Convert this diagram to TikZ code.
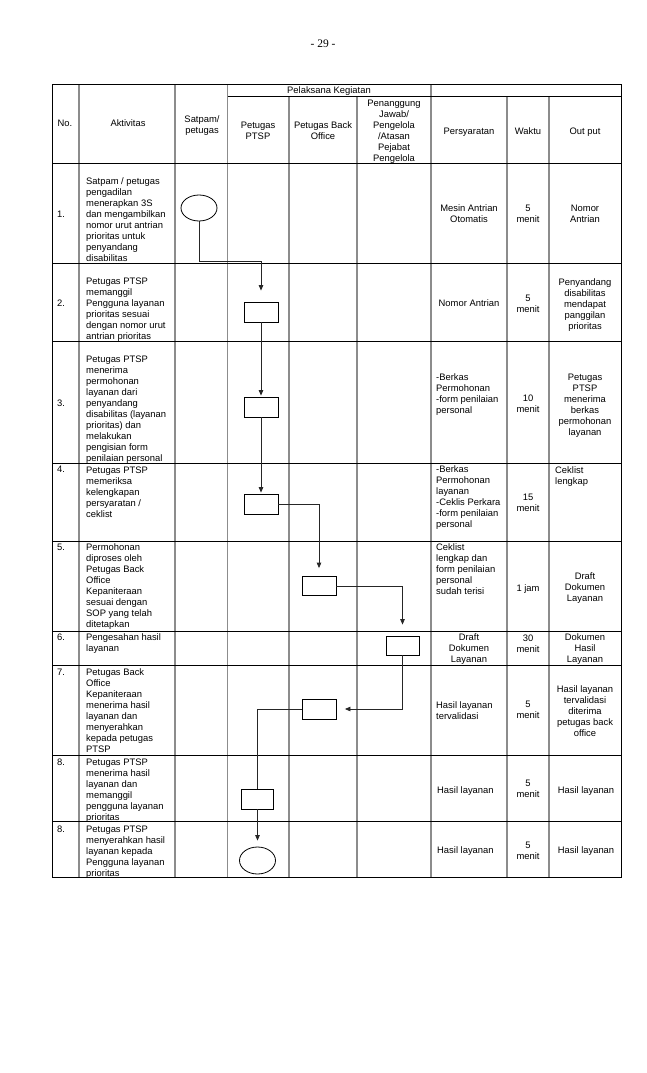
\documentclass[tikz,border=0pt]{standalone}
\usepackage{fontspec}
\setmainfont{Liberation Sans}
\newfontfamily\pgserif{Liberation Serif}
\usetikzlibrary{arrows.meta,shapes.geometric}
\newcommand\lcell[1]{\begin{tabular}[t]{@{}l@{}}#1\end{tabular}}
\newcommand\ccell[1]{\begin{tabular}[t]{@{}c@{}}#1\end{tabular}}
\begin{document}
\begin{tikzpicture}[x=1pt,y=-1pt,
  txt/.style={inner sep=0pt,font=\fontsize{9.4}{11}\selectfont},
  lt/.style={txt,anchor=base west},
  ct/.style={txt,anchor=base},
  hline/.style={line width=0.9pt,black},
  vline/.style={line width=1.2pt,black!45},
  boxstep/.style={draw,line width=0.8pt,minimum width=34pt,minimum height=20pt,inner sep=0pt},
  term/.style={draw,ellipse,line width=0.8pt,minimum width=36pt,minimum height=26pt,inner sep=0pt},
  conn/.style={line width=0.8pt,black!85},
  arr/.style={-{Triangle[length=5.5pt,width=4.5pt]}}]
\useasboundingbox (0,0) rectangle (647,1073);
\fill[white] (0,0) rectangle (647,1073);

% page number
\node[inner sep=0pt,font=\pgserif\fontsize{11.5}{13}\selectfont] (pg) at (323,44) {- 29 -};

% ---- grid: vertical lines
\foreach \x in {79,175,227.5} \draw[vline] (\x,84) -- (\x,877);
\draw[vline] (431,84) -- (431,877);
\foreach \x in {289,357,507,549} \draw[vline] (\x,96) -- (\x,877);
% ---- grid: horizontal lines
\draw[hline] (227.5,96) -- (621,96);
\foreach \y in {163,263,341,463.5,541,631,665,755,821} \draw[hline] (52,\y) -- (621,\y);
\draw[hline] (52,84) rectangle (621,877);

% ---- header
\node[ct] (hpk) at (329,93.2) {Pelaksana Kegiatan};
\node[ct] (hno) at (65,126.5) {No.};
\node[ct] (hak) at (128,126.5) {Aktivitas};
\node[ct] (hsa) at (202,122.5) {\ccell{Satpam/\\petugas}};
\node[ct] (hpt) at (258,128.5) {\ccell{Petugas\\PTSP}};
\node[ct] (hbo) at (323,128.5) {\ccell{Petugas Back\\Office}};
\node[ct] (hpj) at (394,106.5) {\ccell{Penanggung\\Jawab/\\Pengelola\\/Atasan\\Pejabat\\Pengelola}};
\node[ct] (hps) at (469,134) {Persyaratan};
\node[ct] (hwk) at (528,134) {Waktu};
\node[ct] (hop) at (585,134) {Out put};

% ---- row 1
\node[lt] (n1) at (57,217.5) {1.};
\node[lt] (a1) at (86,184) {\lcell{Satpam / petugas\\pengadilan\\menerapkan 3S\\dan mengambilkan\\nomor urut antrian\\prioritas untuk\\penyandang\\disabilitas}};
\node[ct] (p1) at (469,211.5) {\ccell{Mesin Antrian\\Otomatis}};
\node[ct] (w1) at (528,211.5) {\ccell{5\\menit}};
\node[ct] (o1) at (585,211.5) {\ccell{Nomor\\Antrian}};

% ---- row 2
\node[lt] (n2) at (57,306) {2.};
\node[lt] (a2) at (86,284.2) {\lcell{Petugas PTSP\\memanggil\\Pengguna layanan\\prioritas sesuai\\dengan nomor urut\\antrian prioritas}};
\node[ct] (p2) at (469,306) {Nomor Antrian};
\node[ct] (w2) at (528,301) {\ccell{5\\menit}};
\node[ct] (o2) at (585,285) {\ccell{Penyandang\\disabilitas\\mendapat\\panggilan\\prioritas}};

% ---- row 3
\node[lt] (n3) at (57,406.2) {3.};
\node[lt] (a3) at (86,362.5) {\lcell{Petugas PTSP\\menerima\\permohonan\\layanan dari\\penyandang\\disabilitas (layanan\\prioritas) dan\\melakukan\\pengisian form\\penilaian personal}};
\node[lt] (p3) at (436,380) {\lcell{-Berkas\\Permohonan\\-form penilaian\\personal}};
\node[ct] (w3) at (528,401.5) {\ccell{10\\menit}};
\node[ct] (o3) at (585,380) {\ccell{Petugas\\PTSP\\menerima\\berkas\\permohonan\\layanan}};

% ---- row 4
\node[lt] (n4) at (57,472.5) {4.};
\node[lt] (a4) at (86,473) {\lcell{Petugas PTSP\\memeriksa\\kelengkapan\\persyaratan /\\ceklist}};
\node[lt] (p4) at (436,472.5) {\lcell{-Berkas\\Permohonan\\layanan\\-Ceklis Perkara\\-form penilaian\\personal}};
\node[ct] (w4) at (528,500) {\ccell{15\\menit}};
\node[lt] (o4) at (555,473) {\lcell{Ceklist\\lengkap}};

% ---- row 5
\node[lt] (n5) at (57,550) {5.};
\node[lt] (a5) at (86,550) {\lcell{Permohonan\\diproses oleh\\Petugas Back\\Office\\Kepaniteraan\\sesuai dengan\\SOP yang telah\\ditetapkan}};
\node[lt] (p5) at (436,550.5) {\lcell{Ceklist\\lengkap dan\\form penilaian\\personal\\sudah terisi}};
\node[ct] (w5) at (528,591.5) {1 jam};
\node[ct] (o5) at (585,579) {\ccell{Draft\\Dokumen\\Layanan}};

% ---- row 6
\node[lt] (n6) at (57,640.5) {6.};
\node[lt] (a6) at (86,640.5) {\lcell{Pengesahan hasil\\layanan}};
\node[ct] (p6) at (469,640) {\ccell{Draft\\Dokumen\\Layanan}};
\node[ct] (w6) at (528,641) {\ccell{30\\menit}};
\node[ct] (o6) at (585,640) {\ccell{Dokumen\\Hasil\\Layanan}};

% ---- row 7
\node[lt] (n7) at (57,675) {7.};
\node[lt] (a7) at (86,675) {\lcell{Petugas Back\\Office\\Kepaniteraan\\menerima hasil\\layanan dan\\menyerahkan\\kepada petugas\\PTSP}};
\node[lt] (p7) at (436,708.2) {\lcell{Hasil layanan\\tervalidasi}};
\node[ct] (w7) at (528,707.5) {\ccell{5\\menit}};
\node[ct] (o7) at (585,692.2) {\ccell{Hasil layanan\\tervalidasi\\diterima\\petugas back\\office}};

% ---- row 8a
\node[lt] (n8) at (57,765) {8.};
\node[lt] (a8) at (86,765) {\lcell{Petugas PTSP\\menerima hasil\\layanan dan\\memanggil\\pengguna layanan\\prioritas}};
\node[lt] (p8) at (437,793.2) {Hasil layanan};
\node[ct] (w8) at (528,786) {\ccell{5\\menit}};
\node[ct] (o8) at (586,793.2) {Hasil layanan};

% ---- row 8b
\node[lt] (n9) at (57,832.5) {8.};
\node[lt] (a9) at (86,832.5) {\lcell{Petugas PTSP\\menyerahkan hasil\\layanan kepada\\Pengguna layanan\\prioritas}};
\node[lt] (p9) at (437,853.2) {Hasil layanan};
\node[ct] (w9) at (528,848) {\ccell{5\\menit}};
\node[ct] (o9) at (586,853.2) {Hasil layanan};

% ---- flow shapes
\node[term] (e1) at (199,208) {};
\node[boxstep] (b2) at (261,312) {};
\node[boxstep] (b3) at (261,407) {};
\node[boxstep] (b4) at (261,504) {};
\node[boxstep,minimum height=19pt] (b5) at (319,586) {};
\node[boxstep,minimum width=33pt,minimum height=19pt] (b6) at (402.5,645.5) {};
\node[boxstep] (b7) at (319.5,709) {};
\node[boxstep,minimum width=32pt] (b8) at (257.5,799) {};
\node[term,minimum height=27pt] (e9) at (257.5,860.5) {};
\coordinate (j1) at (261,261);

% ---- connectors
\draw[conn,arr,shorten >=11pt] (e1.south) |- (j1) -- (b2.north);
\draw[conn,arr,shorten >=1pt] (b2.south) -- (b3.north);
\draw[conn,arr,shorten >=1pt] (b3.south) -- (b4.north);
\draw[conn,arr,shorten >=8pt] (b4.east) -| (b5.north);
\draw[conn,arr,shorten >=11pt] (b5.east) -| (b6.north);
\draw[conn,arr,shorten >=8pt] (b6.south) |- (b7.east);
\draw[conn] (b7.west) -| (b8.north);
\draw[conn,arr,shorten >=6pt] (b8.south) -- (e9.north);
\end{tikzpicture}
\end{document}
